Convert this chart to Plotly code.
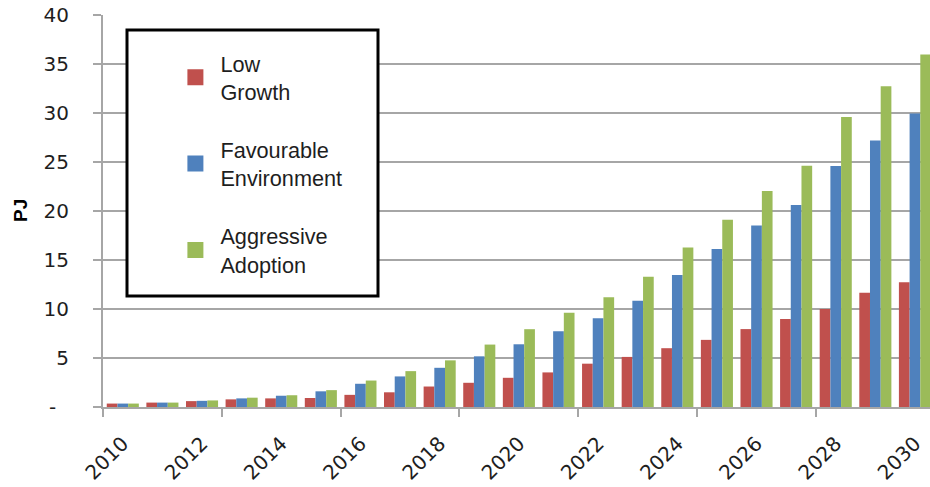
import plotly.graph_objects as go

# Annual energy (PJ) under three adoption scenarios, 2010-2030
years = list(range(2010, 2031))
low_growth = [0.35, 0.45, 0.6, 0.78, 0.88, 0.92, 1.24, 1.5, 2.09, 2.47, 2.98,
              3.53, 4.42, 5.11, 6.0, 6.85, 7.95, 8.97, 10.0, 11.66, 12.72]
favourable = [0.35, 0.45, 0.63, 0.88, 1.15, 1.6, 2.37, 3.12, 4.0, 5.17, 6.4,
              7.73, 9.05, 10.84, 13.47, 16.13, 18.52, 20.6, 24.59, 27.2, 29.94]
aggressive = [0.35, 0.45, 0.67, 0.95, 1.2, 1.72, 2.7, 3.66, 4.76, 6.37, 7.94,
              9.61, 11.2, 13.3, 16.27, 19.1, 22.03, 24.62, 29.6, 32.74, 35.98]

series_names = ["Low<br>Growth", "Favourable<br>Environment", "Aggressive<br>Adoption"]
series_colors = ["#C0504D", "#4F81BD", "#9BBB59"]

x_labels = [str(y) for y in range(2010, 2031, 2)]
y_ticks = list(range(0, 41, 5))
y_labels = ["-\u00a0\u00a0"] + [str(v) for v in y_ticks[1:]]

AXIS_FONT = "DejaVu Sans, Verdana, sans-serif"
LEGEND_FONT = "Liberation Sans, Arial, sans-serif"
TEXT = "#1e1e1e"
GRID = "#a6a6a6"

fig = go.Figure()
for name, vals, col in zip(series_names, [low_growth, favourable, aggressive], series_colors):
    fig.add_trace(go.Bar(x=years, y=vals, name=name, legendgroup=name, showlegend=False,
                         marker=dict(color=col, line=dict(width=0))))
    # larger square key for the legend
    fig.add_trace(go.Scatter(x=[None], y=[None], mode="markers", name=name,
                             legendgroup=name, showlegend=True,
                             marker=dict(symbol="square", size=16, color=col,
                                         line=dict(width=0))))

# category boundaries every third year carry the x tick marks
boundaries = [y - 0.5 for y in range(2010, 2031, 3)]

fig.update_layout(
    width=930, height=487,
    margin=dict(l=103, r=0, t=15, b=80),
    paper_bgcolor="white", plot_bgcolor="white",
    barmode="group", bargap=0.19, bargroupgap=0,
    font=dict(family=AXIS_FONT, size=19, color=TEXT),
    showlegend=True,
    legend=dict(x=0.0815, y=0.93, xanchor="left", yanchor="top",
                bgcolor="rgba(0,0,0,0)", borderwidth=0,
                font=dict(family=LEGEND_FONT, size=21.7, color=TEXT),
                tracegroupgap=27, traceorder="grouped", itemwidth=40,
                itemsizing="trace"),
    xaxis=dict(range=[2009.5, 2030.38], tickmode="array",
               tickvals=[int(t) for t in x_labels], ticktext=x_labels,
               tickfont=dict(family=AXIS_FONT, size=20, color=TEXT),
               tickangle=-45, ticks="", showgrid=False, zeroline=False,
               showline=True, linecolor=GRID, linewidth=2,
               ticklabelstandoff=15, automargin=False,
               minor=dict(tickmode="array", tickvals=boundaries, ticks="outside",
                          ticklen=8, tickwidth=2, tickcolor=GRID, showgrid=False)),
    yaxis=dict(range=[0, 40], tickmode="array", tickvals=y_ticks, ticktext=y_labels,
               tickfont=dict(family=AXIS_FONT, size=20, color=TEXT),
               ticks="outside", ticklen=8, tickwidth=2, tickcolor=GRID,
               showgrid=True, gridcolor=GRID, gridwidth=2, zeroline=False,
               showline=True, linecolor=GRID, linewidth=2,
               ticklabelstandoff=20, automargin=False),
)

# framed legend panel
fig.add_shape(type="rect", xref="paper", yref="paper",
              x0=(127 - 103) / 827, x1=(378 - 103) / 827,
              y0=(407 - 296) / 392, y1=(407 - 30) / 392,
              line=dict(color="black", width=3), fillcolor="white", layer="above")

fig.add_annotation(text="<b>PJ</b>", xref="paper", yref="paper",
                   x=(20 - 103) / 827, y=(407 - 211) / 392, textangle=-90, showarrow=False,
                   xanchor="center", yanchor="middle",
                   font=dict(family=LEGEND_FONT, size=19, color="#000000"))

fig.write_html("out.html")
